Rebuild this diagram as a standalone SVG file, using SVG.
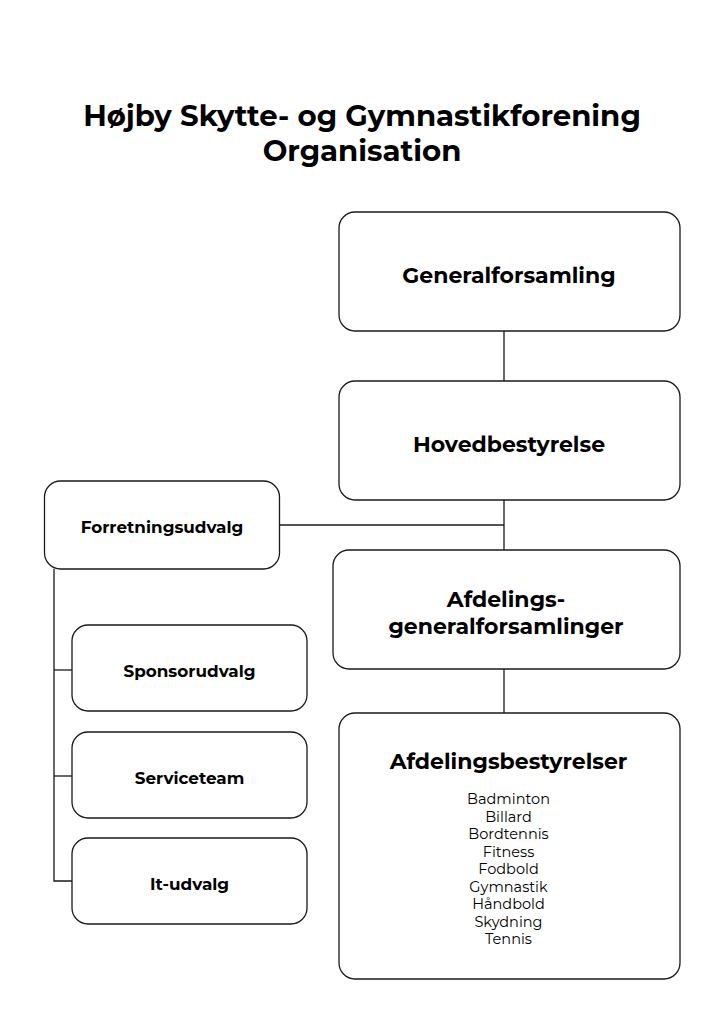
<svg xmlns="http://www.w3.org/2000/svg" width="724" height="1024" viewBox="0 0 724 1024">
<style>
.box{fill:#fff;stroke:#1a1a1a;stroke-width:1.3}
.con{fill:none;stroke:#1a1a1a;stroke-width:1.3}
text{font-family:Montserrat,Inter,"Noto Sans",sans-serif;fill:#000;text-anchor:middle}
.t{font-size:29.2px;font-weight:700}
.h{font-size:22px;font-weight:700}
.s{font-size:16.8px;font-weight:700}
.l{font-size:14.5px;font-weight:400}
</style>
<rect width="724" height="1024" fill="#fff"/>
<g id="title">
<text class="t" x="362" y="126">Højby Skytte- og Gymnastikforening</text>
<text class="t" x="362" y="161">Organisation</text>
</g>
<g id="connectors">
<line class="con" x1="504" y1="331" x2="504" y2="381"/>
<line class="con" x1="504" y1="500" x2="504" y2="550"/>
<line class="con" x1="279" y1="525" x2="504" y2="525"/>
<line class="con" x1="504" y1="669" x2="504" y2="713"/>
<polyline class="con" points="54,569 54,881 72,881"/>
<line class="con" x1="54" y1="670" x2="72" y2="670"/>
<line class="con" x1="54" y1="776" x2="72" y2="776"/>
</g>
<g id="generalforsamling">
<rect class="box" x="339" y="212" width="341" height="119" rx="16"/>
<text class="h" x="509" y="283">Generalforsamling</text>
</g>
<g id="hovedbestyrelse">
<rect class="box" x="339" y="381" width="341" height="119" rx="16"/>
<text class="h" x="509" y="452">Hovedbestyrelse</text>
</g>
<g id="forretningsudvalg">
<rect class="box" x="44.5" y="481" width="235" height="88" rx="16"/>
<text class="s" x="162" y="533">Forretningsudvalg</text>
</g>
<g id="afdelingsgeneralforsamlinger">
<rect class="box" x="333" y="550" width="347" height="119" rx="16"/>
<text class="h" x="506" y="607">Afdelings-</text>
<text class="h" x="506" y="634">generalforsamlinger</text>
</g>
<g id="afdelingsbestyrelser">
<rect class="box" x="339" y="713" width="341" height="266" rx="16"/>
<text class="h" x="508.5" y="769">Afdelingsbestyrelser</text>
<text class="l" x="508.5" y="804">Badminton</text>
<text class="l" x="508.5" y="821.5">Billard</text>
<text class="l" x="508.5" y="839">Bordtennis</text>
<text class="l" x="508.5" y="856.5">Fitness</text>
<text class="l" x="508.5" y="874">Fodbold</text>
<text class="l" x="508.5" y="891.5">Gymnastik</text>
<text class="l" x="508.5" y="909">Håndbold</text>
<text class="l" x="508.5" y="926.5">Skydning</text>
<text class="l" x="508.5" y="944">Tennis</text>
</g>
<g id="sponsorudvalg">
<rect class="box" x="72" y="625" width="235" height="86" rx="16"/>
<text class="s" x="189.5" y="677">Sponsorudvalg</text>
</g>
<g id="serviceteam">
<rect class="box" x="72" y="732" width="235" height="86" rx="16"/>
<text class="s" x="189.5" y="784">Serviceteam</text>
</g>
<g id="it-udvalg">
<rect class="box" x="72" y="838" width="235" height="86" rx="16"/>
<text class="s" x="189.5" y="890">It-udvalg</text>
</g>
</svg>
